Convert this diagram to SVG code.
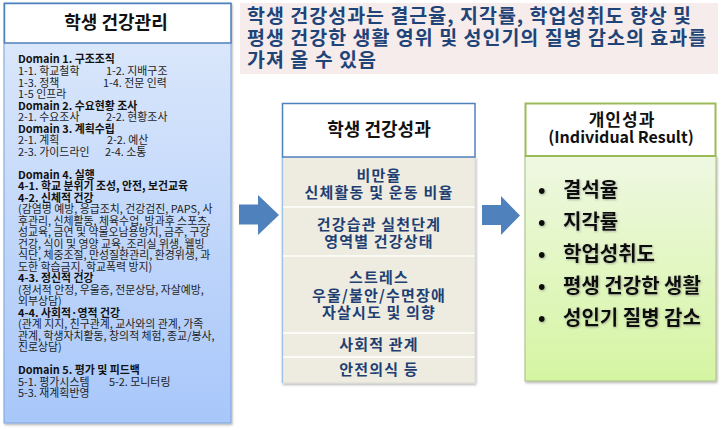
<svg xmlns="http://www.w3.org/2000/svg" width="726" height="430" viewBox="0 0 726 430">
<defs>
<linearGradient id="gBlue" x1="0" y1="0" x2="0" y2="1">
<stop offset="0" stop-color="#DFEAFB"/>
<stop offset="1" stop-color="#A8C7FA"/>
</linearGradient>
<linearGradient id="gGreen" x1="0" y1="0" x2="0" y2="1">
<stop offset="0" stop-color="#EFF8E2"/>
<stop offset="1" stop-color="#D5F5A2"/>
</linearGradient>
<filter id="sh" x="-5%" y="-5%" width="112%" height="112%">
<feDropShadow dx="1" dy="1.5" stdDeviation="1.2" flood-color="#000" flood-opacity="0.3"/>
</filter>
<filter id="glow" x="-10%" y="-30%" width="120%" height="160%">
<feDropShadow dx="0.8" dy="1" stdDeviation="0.8" flood-color="#666" flood-opacity="0.5"/>
</filter>
<style>
text{font-family:"Noto Sans CJK KR","Noto Sans",sans-serif;}
.t{font-size:10.9px;fill:#1E1E1E;}
.b{font-size:10.9px;fill:#111;font-weight:bold;}
.h{font-size:18px;font-weight:bold;fill:#111;text-anchor:middle;}
.m{font-size:15px;font-weight:bold;fill:#1F3F73;text-anchor:middle;letter-spacing:1.2px;}
.p{font-size:19.5px;font-weight:bold;fill:#1F4478;letter-spacing:1px;}
.r{font-size:20px;font-weight:bold;fill:#111;}
.rh{font-weight:bold;fill:#111;text-anchor:middle;}
.arrow{fill:#4F81BD;}
</style>
</defs>
<rect width="726" height="430" fill="#FFFFFF"/>

<g id="note">
<rect x="240" y="3" width="478" height="71" fill="#F6ECEC"/>
<text class="p" x="247" y="23">학생 건강성과는 결근율, 지각률, 학업성취도 향상 및</text>
<text class="p" x="247" y="45">평생 건강한 생활 영위 및 성인기의 질병 감소의 효과를</text>
<text class="p" x="247" y="67">가져 올 수 있음</text>
</g>

<g id="health-management">
<rect x="4" y="3" width="227" height="420" fill="url(#gBlue)" stroke="#7FA4DA" stroke-width="1" filter="url(#sh)"/>
<rect x="4.5" y="3.5" width="226.5" height="39.5" fill="#FFFFFF" stroke="#4F81BD" stroke-width="1.5"/>
<text class="h" x="116" y="29">학생 건강관리</text>
<text class="b" x="18" y="63">Domain 1. 구조조직</text>
<text class="t" x="18" y="75">1-1. 학교철학</text><text class="t" x="106" y="75">1-2. 지배구조</text>
<text class="t" x="18" y="86.5">1-3. 정책</text><text class="t" x="103" y="86.5">1-4. 전문 인력</text>
<text class="t" x="18" y="98">1-5 인프라</text>
<text class="b" x="18" y="109.5">Domain 2. 수요현황 조사</text>
<text class="t" x="18" y="121">2-1. 수요조사</text><text class="t" x="106" y="121">2-2. 현황조사</text>
<text class="b" x="18" y="132.5">Domain 3. 계획수립</text>
<text class="t" x="18" y="144">2-1. 계획</text><text class="t" x="107" y="144">2-2. 예산</text>
<text class="t" x="18" y="155.5">2-3. 가이드라인</text><text class="t" x="105" y="155.5">2-4. 소통</text>
<text class="b" x="18" y="178.5">Domain 4. 실행</text>
<text class="b" x="18" y="190">4-1. 학교 분위기 조성, 안전, 보건교육</text>
<text class="b" x="18" y="201.5">4-2. 신체적 건강</text>
<text class="t" x="18" y="213">(감염병 예방, 응급조치, 건강검진, PAPS, 사</text>
<text class="t" x="18" y="224.5">후관리, 신체활동, 체육수업, 방과후 스포츠,</text>
<text class="t" x="18" y="236">성교육, 금연 및 약물오남용방지, 금주, 구강</text>
<text class="t" x="18" y="247.5">건강, 식이 및 영양 교육, 조리실 위생, 웰빙</text>
<text class="t" x="18" y="259">식단, 체중조절, 만성질환관리, 환경위생, 과</text>
<text class="t" x="18" y="270.5">도한 학습금지, 학교폭력 방지)</text>
<text class="b" x="18" y="282">4-3. 정신적 건강</text>
<text class="t" x="18" y="293.5">(정서적 안정, 우울증, 전문상담, 자살예방,</text>
<text class="t" x="18" y="305">외부상담)</text>
<text class="b" x="18" y="316.5">4-4. 사회적·영적 건강</text>
<text class="t" x="18" y="328">(관계 지지, 친구관계, 교사와의 관계, 가족</text>
<text class="t" x="18" y="339.5">관계, 학생자치활동, 창의적 체험, 종교/봉사,</text>
<text class="t" x="18" y="351">진로상담)</text>
<text class="b" x="18" y="374">Domain 5. 평가 및 피드백</text>
<text class="t" x="18" y="385.5">5-1. 평가시스템</text><text class="t" x="109" y="385.5">5-2. 모니터링</text>
<text class="t" x="18" y="397">5-3. 재계획반영</text>
</g>

<g id="health-outcomes">
<rect x="282" y="157" width="193" height="226" fill="#EEECE1" stroke="#D6D6D0" stroke-width="0.8" filter="url(#sh)"/>
<line x1="282.5" y1="157" x2="282.5" y2="383" stroke="#9DC3E6" stroke-width="1.2"/>
<g stroke="#FAFAF6" stroke-width="2">
<line x1="283" y1="207" x2="474.5" y2="207"/>
<line x1="283" y1="256" x2="474.5" y2="256"/>
<line x1="283" y1="333" x2="474.5" y2="333"/>
<line x1="283" y1="357" x2="474.5" y2="357"/>
</g>
<rect x="282.5" y="103.5" width="192.5" height="53.5" fill="#FFFFFF" stroke="#4F81BD" stroke-width="1.5"/>
<text class="h" x="379" y="136">학생 건강성과</text>
<text class="m" x="379" y="181">비만율</text>
<text class="m" x="379" y="198">신체활동 및 운동 비율</text>
<text class="m" x="379" y="230">건강습관 실천단계</text>
<text class="m" x="379" y="247">영역별 건강상태</text>
<text class="m" x="379" y="283">스트레스</text>
<text class="m" x="379" y="300.5">우울/불안/수면장애</text>
<text class="m" x="379" y="318">자살시도 및 의향</text>
<text class="m" x="379" y="350">사회적 관계</text>
<text class="m" x="379" y="375">안전의식 등</text>
</g>

<g id="individual-result">
<rect x="525" y="156" width="191" height="225" fill="url(#gGreen)" stroke="#A9BD86" stroke-width="1" filter="url(#sh)"/>
<rect x="525.5" y="103.5" width="190" height="52.5" fill="#FFFFFF" stroke="#9BBB59" stroke-width="2"/>
<text class="rh" x="622" y="125.5" font-size="17" letter-spacing="1">개인성과</text>
<text class="rh" x="621" y="143" font-size="16">(Individual Result)</text>
<g filter="url(#glow)">
<text class="r" x="538" y="197">•</text><text class="r" x="563" y="197">결석율</text>
<text class="r" x="538" y="229">•</text><text class="r" x="563" y="229">지각률</text>
<text class="r" x="538" y="261">•</text><text class="r" x="563" y="261">학업성취도</text>
<text class="r" x="538" y="293">•</text><text class="r" x="563" y="293">평생 건강한 생활</text>
<text class="r" x="538" y="325">•</text><text class="r" x="563" y="325">성인기 질병 감소</text>
</g>
</g>

<g id="connectors">
<polygon class="arrow" points="239,204.5 258,204.5 258,195 279,215 258,235 258,224.5 239,224.5"/>
<polygon class="arrow" points="482,205 501,205 501,196 520,215.5 501,235 501,225 482,225"/>
</g>
</svg>
